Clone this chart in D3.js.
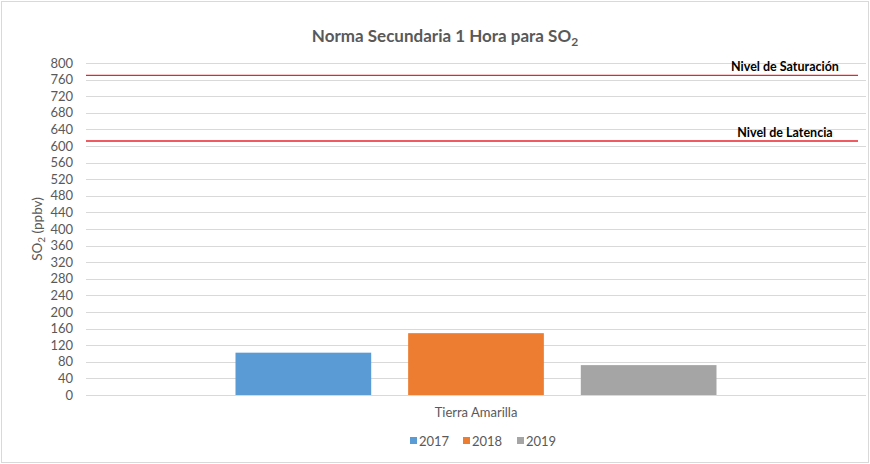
<!DOCTYPE html>
<html>
<head>
<meta charset="utf-8">
<script src="https://cdn.jsdelivr.net/npm/d3@7"></script>
<style>
  body { margin: 0; background: #fff; }
  text { font-family: Lato, "Open Sans", sans-serif; }
</style>
</head>
<body>
<div id="chart"></div>
<script>
// datos
var categories = ["Tierra Amarilla"];
var years = ["2017", "2018", "2019"];
var values2017 = [102];
var values2018 = [149];
var values2019 = [72];
var yTicks = d3.range(0, 801, 40);
var limitNames = ["Nivel de Saturación", "Nivel de Latencia"];
var limitValues = [770, 612];

var colors = { "2017": "#5b9bd5", "2018": "#ed7d31", "2019": "#a5a5a5" };

var width = 870, height = 464;
var margin = { top: 63, right: 4, bottom: 69, left: 86 };

var svg = d3.select("#chart")
    .append("svg")
    .attr("width", width)
    .attr("height", height);

svg.append("rect")
    .attr("x", 1.5).attr("y", 1.5)
    .attr("width", width - 3).attr("height", height - 3)
    .style("fill", "#fff")
    .style("stroke", "#d9d9d9");

var g = svg.append("g")
    .attr("transform", "translate(" + margin.left + "," + margin.top + ")");

var w = width - margin.left - margin.right;
var h = height - margin.top - margin.bottom;

var x = d3.scaleBand().domain(categories).range([0, w]).paddingInner(0).paddingOuter(0);
var x1 = d3.scaleBand().domain(years).range([149.5, x.bandwidth() - 149.5]).paddingInner(0.214).paddingOuter(0);
var y = d3.scaleLinear().domain([0, 800]).range([h, 0]);

// grid
g.selectAll(".grid")
    .data(yTicks)
    .enter().append("line")
    .attr("x1", 0).attr("x2", w)
    .attr("y1", function (d) { return Math.round(y(d)) + 0.5; })
    .attr("y2", function (d) { return Math.round(y(d)) + 0.5; })
    .style("stroke", "#d9d9d9")
    .style("stroke-width", 1);

// eje y
var yAxis = g.append("g")
    .call(d3.axisLeft(y).tickValues(yTicks).tickSize(0).tickPadding(13));
yAxis.select(".domain").remove();
yAxis.selectAll("text")
    .style("font-size", "13px")
    .style("fill", "#595959");

// barras
var seriesValues = { "2017": values2017, "2018": values2018, "2019": values2019 };
categories.forEach(function (c, i) {
    years.forEach(function (yr) {
        var v = seriesValues[yr][i];
        g.append("rect")
            .attr("x", x(c) + x1(yr))
            .attr("y", y(v))
            .attr("width", x1.bandwidth())
            .attr("height", h - y(v))
            .style("fill", colors[yr]);
    });
});

// lineas de norma
limitValues.forEach(function (v, i) {
    g.append("line")
        .attr("x1", 0).attr("x2", w - 8)
        .attr("y1", y(v)).attr("y2", y(v))
        .style("stroke", "#e8242c")
        .style("stroke-width", 1.3);
    g.append("text")
        .attr("x", 699)
        .attr("y", y(v) - 4)
        .attr("text-anchor", "middle")
        .style("font-size", "12.5px")
        .style("font-weight", "bold")
        .style("fill", "#000")
        .text(limitNames[i]);
});

// etiqueta categoria
g.selectAll(".cat")
    .data(categories)
    .enter().append("text")
    .attr("x", function (d) { return x(d) + x.bandwidth() / 2; })
    .attr("y", h + 22)
    .attr("text-anchor", "middle")
    .style("font-size", "13px")
    .style("fill", "#595959")
    .text(function (d) { return d; });

// titulo
var title = svg.append("text")
    .attr("x", 445)
    .attr("y", 42)
    .attr("text-anchor", "middle")
    .style("font-size", "17px")
    .style("font-weight", "bold")
    .style("fill", "#595959");
title.append("tspan").text("Norma Secundaria 1 Hora para SO");
title.append("tspan").attr("dy", 4).style("font-size", "12px").text("2");

// titulo eje y
var yt = svg.append("text")
    .attr("transform", "translate(42," + 229 + ") rotate(-90)")
    .attr("text-anchor", "middle")
    .style("font-size", "13.5px")
    .style("fill", "#595959");
yt.append("tspan").text("SO");
yt.append("tspan").attr("dy", 3).style("font-size", "10px").text("2");
yt.append("tspan").attr("dy", -3).text(" (ppbv)");

// leyenda
var legX = [410, 463, 517];
years.forEach(function (yr, i) {
    var lg = svg.append("g").attr("transform", "translate(" + legX[i] + ",437)");
    lg.append("rect").attr("width", 7).attr("height", 7).style("fill", colors[yr]);
    lg.append("text")
        .attr("x", 9).attr("y", 8.5)
        .style("font-size", "13px")
        .style("fill", "#595959")
        .text(yr);
});
</script>
</body>
</html>
